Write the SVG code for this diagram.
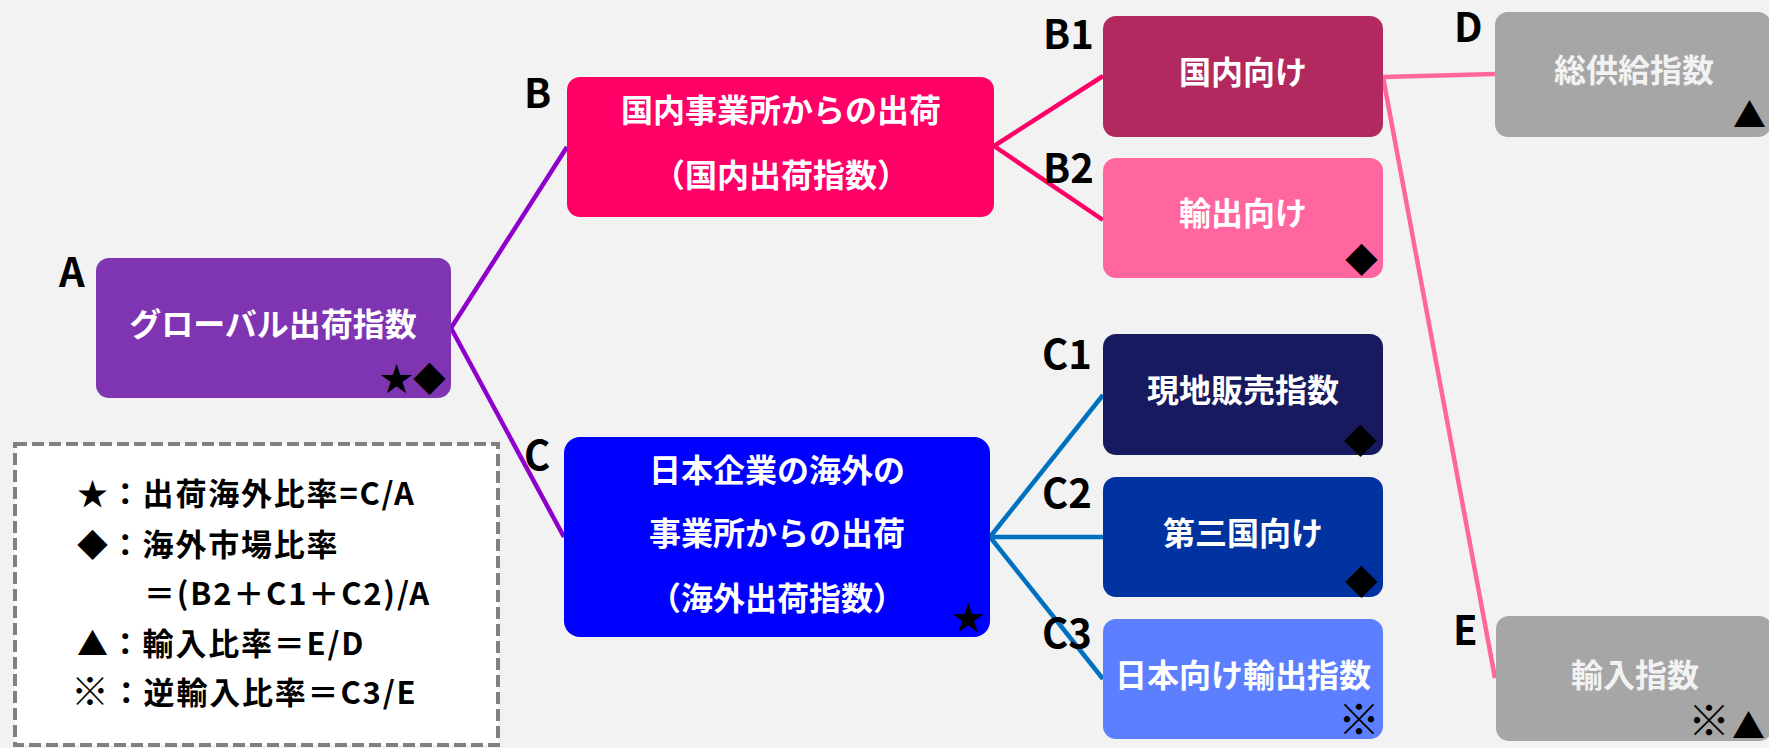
<svg xmlns="http://www.w3.org/2000/svg" width="1769" height="748" viewBox="0 0 1769 748">
<style>
text{font-family:"Noto Sans CJK JP","Noto Sans",sans-serif;font-weight:700}
.nt{font-size:32px;fill:#FFFFFF;text-anchor:middle}
.gt{font-size:32px;fill:#F2F2F2;text-anchor:middle}
.lb{font-size:40px;fill:#000000}
.mk{font-size:33px;fill:#000000;text-anchor:end;font-weight:400}
.big{font-size:42px;font-weight:700}
.lg{font-size:31px;fill:#000000;letter-spacing:1.8px}
.cn{fill:none;stroke-width:4.5}
</style>
<rect x="0" y="0" width="1769" height="748" fill="#F2F2F2"/>
<g id="connectors">
<line class="cn" stroke="#8F00CC" x1="451" y1="328" x2="567" y2="147"/>
<line class="cn" stroke="#8F00CC" x1="451" y1="328" x2="564" y2="537"/>
<line class="cn" stroke="#FF0066" x1="994" y1="146" x2="1103" y2="76"/>
<line class="cn" stroke="#FF0066" x1="994" y1="146" x2="1103" y2="220"/>
<line class="cn" stroke="#0070C0" x1="990" y1="537" x2="1103" y2="395"/>
<line class="cn" stroke="#0070C0" x1="990" y1="537" x2="1103" y2="537"/>
<line class="cn" stroke="#0070C0" x1="990" y1="537" x2="1103" y2="679"/>
<line class="cn" stroke="#FF6699" x1="1383" y1="77" x2="1495" y2="74"/>
<line class="cn" stroke="#FF6699" x1="1383" y1="77" x2="1495" y2="678"/>
</g>
<g id="nodeA">
<rect x="96" y="258" width="355" height="140" rx="13" fill="#7F35B2"/>
<text class="nt" x="273" y="336">グローバル出荷指数</text>
<text class="mk" x="446" y="391">★◆</text>
<text class="lb" x="59" y="287">A</text>
</g>
<g id="nodeB">
<rect x="567" y="77" width="427" height="140" rx="13" fill="#FF0066"/>
<text class="nt" x="781" y="122">国内事業所からの出荷</text>
<text class="nt" x="781" y="187">（国内出荷指数）</text>
<text class="lb" x="524" y="108">B</text>
</g>
<g id="nodeB1">
<rect x="1103" y="16" width="280" height="121" rx="13" fill="#B1295F"/>
<text class="nt" x="1243" y="84">国内向け</text>
<text class="lb" x="1043" y="49">B1</text>
</g>
<g id="nodeB2">
<rect x="1103" y="158" width="280" height="120" rx="13" fill="#FF66A0"/>
<text class="nt" x="1243" y="225">輸出向け</text>
<text class="mk" x="1378" y="272">◆</text>
<text class="lb" x="1043" y="183">B2</text>
</g>
<g id="nodeC">
<rect x="564" y="437" width="426" height="200" rx="16" fill="#0000FF"/>
<text class="nt" x="777" y="482">日本企業の海外の</text>
<text class="nt" x="777" y="545">事業所からの出荷</text>
<text class="nt" x="777" y="610">（海外出荷指数）</text>
<text class="mk" x="985" y="630">★</text>
<text class="lb" x="524" y="470">C</text>
</g>
<g id="nodeC1">
<rect x="1103" y="334" width="280" height="121" rx="13" fill="#171A5E"/>
<text class="nt" x="1243" y="402">現地販売指数</text>
<text class="mk" x="1377" y="453">◆</text>
<text class="lb" x="1042" y="369">C1</text>
</g>
<g id="nodeC2">
<rect x="1103" y="477" width="280" height="120" rx="13" fill="#0033A0"/>
<text class="nt" x="1243" y="545">第三国向け</text>
<text class="mk" x="1378" y="594">◆</text>
<text class="lb" x="1042" y="508">C2</text>
</g>
<g id="nodeC3">
<rect x="1103" y="619" width="280" height="120" rx="13" fill="#5B7FFF"/>
<text class="nt" x="1243" y="687">日本向け輸出指数</text>
<text class="mk big" x="1380" y="735">※</text>
<text class="lb" x="1042" y="648">C3</text>
</g>
<g id="nodeD">
<rect x="1495" y="12" width="276" height="125" rx="13" fill="#A6A6A6"/>
<text class="gt" x="1634" y="82">総供給指数</text>
<text class="mk" x="1766" y="127">▲</text>
<text class="lb" x="1454" y="42">D</text>
</g>
<g id="nodeE">
<rect x="1496" y="616" width="276" height="125" rx="13" fill="#A6A6A6"/>
<text class="gt" x="1635" y="687">輸入指数</text>
<text class="mk big" x="1730" y="736">※</text>
<text class="mk" x="1765" y="738">▲</text>
<text class="lb" x="1453" y="645">E</text>
</g>
<g id="legend">
<rect x="15" y="444" width="483" height="301" fill="#FFFFFF" stroke="#808080" stroke-width="4" stroke-dasharray="12 5"/>
<text class="lg" x="77" y="505">★：出荷海外比率=C/A</text>
<text class="lg" x="77" y="556">◆：海外市場比率</text>
<text class="lg" x="144" y="605">＝(B2＋C1＋C2)/A</text>
<text class="lg" x="77" y="655">▲：輸入比率＝E/D</text>
<text class="lg" x="71" y="705"><tspan style="font-size:38px">※</tspan><tspan y="704">：逆輸入比率＝C3/E</tspan></text>
</g>
</svg>
